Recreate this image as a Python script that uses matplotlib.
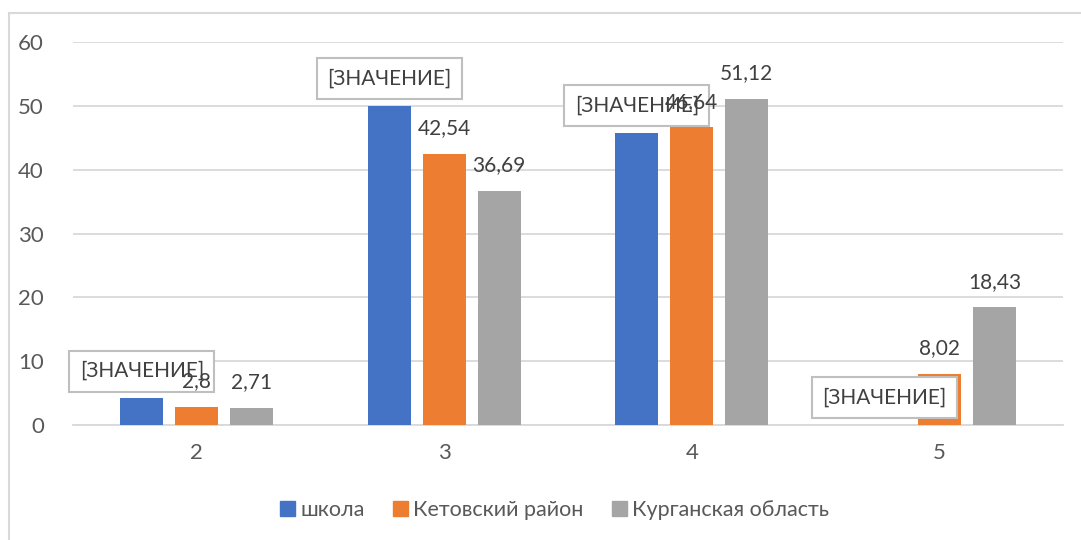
import numpy as np
import matplotlib.pyplot as plt
from matplotlib.patches import Rectangle

plt.rcParams['font.family'] = ['Lato', 'DejaVu Sans']

categories = ['2', '3', '4', '5']
series_names = ['школа', 'Кетовский район', 'Курганская область']
school = [4.2, 50.0, 45.8, 0.0]
district = [2.8, 42.54, 46.64, 8.02]
region = [2.71, 36.69, 51.12, 18.43]
label_school = ['[ЗНАЧЕНИЕ]'] * 4
label_district = ['2,8', '42,54', '46,64', '8,02']
label_region = ['2,71', '36,69', '51,12', '18,43']

colors = ['#4472C4', '#ED7D31', '#A5A5A5']

fig = plt.figure(figsize=(10.81, 5.40), dpi=100)
ax = fig.add_axes([0.0675, 0.213, 0.916, 0.709])

x = np.arange(len(categories))
w = 0.174
step = 0.222
data = [school, district, region]
labels = [label_school, label_district, label_region]

for i, (vals, labs) in enumerate(zip(data, labels)):
    xs = x + (i - 1) * step
    bars = ax.bar(xs, vals, width=w, color=colors[i], zorder=3)
    for xi, v, lab in zip(xs, vals, labs):
        if i == 0:
            ax.annotate(lab, (xi, v), xytext=(0, 19.5), textcoords='offset points',
                        ha='center', va='center', fontsize=15, color='#404040',
                        zorder=5,
                        bbox=dict(boxstyle='square,pad=0.5', fc='white',
                                  ec='#BFBFBF', lw=1.5))
        else:
            ax.annotate(lab, (xi, v), xytext=(0, 18.5), textcoords='offset points',
                        ha='center', va='center', fontsize=15, color='#404040',
                        zorder=6)

ax.set_xlim(-0.5, len(categories) - 0.5)
ax.set_ylim(0, 60)
ax.set_yticks(range(0, 61, 10))
ax.set_xticks(x)
ax.set_xticklabels(categories)
ax.yaxis.grid(True, color='#D9D9D9', lw=1.3, zorder=0)
ax.set_axisbelow(True)
for s in ['top', 'right', 'left']:
    ax.spines[s].set_visible(False)
ax.spines['bottom'].set_color('#D9D9D9')
ax.spines['bottom'].set_linewidth(1.3)
ax.tick_params(axis='both', length=0, labelsize=16, labelcolor='#595959')
ax.tick_params(axis='y', pad=21)
ax.tick_params(axis='x', pad=13)

handles = [plt.Rectangle((0, 0), 1, 1, color=c) for c in colors]
fig.legend(handles, series_names, loc='center', bbox_to_anchor=(0.513, 0.055),
           ncol=3, frameon=False, fontsize=15.5, labelcolor='#595959',
           handlelength=0.7, handleheight=0.7, handletextpad=0.25,
           columnspacing=1.3)

# chart area frame
fig.patches.append(Rectangle((9 / 1081, -0.05), 1.2, 1 - 13 / 540 + 0.05,
                             transform=fig.transFigure, fill=False,
                             ec='#D9D9D9', lw=1.5))

fig.savefig('out.png', dpi=100)
